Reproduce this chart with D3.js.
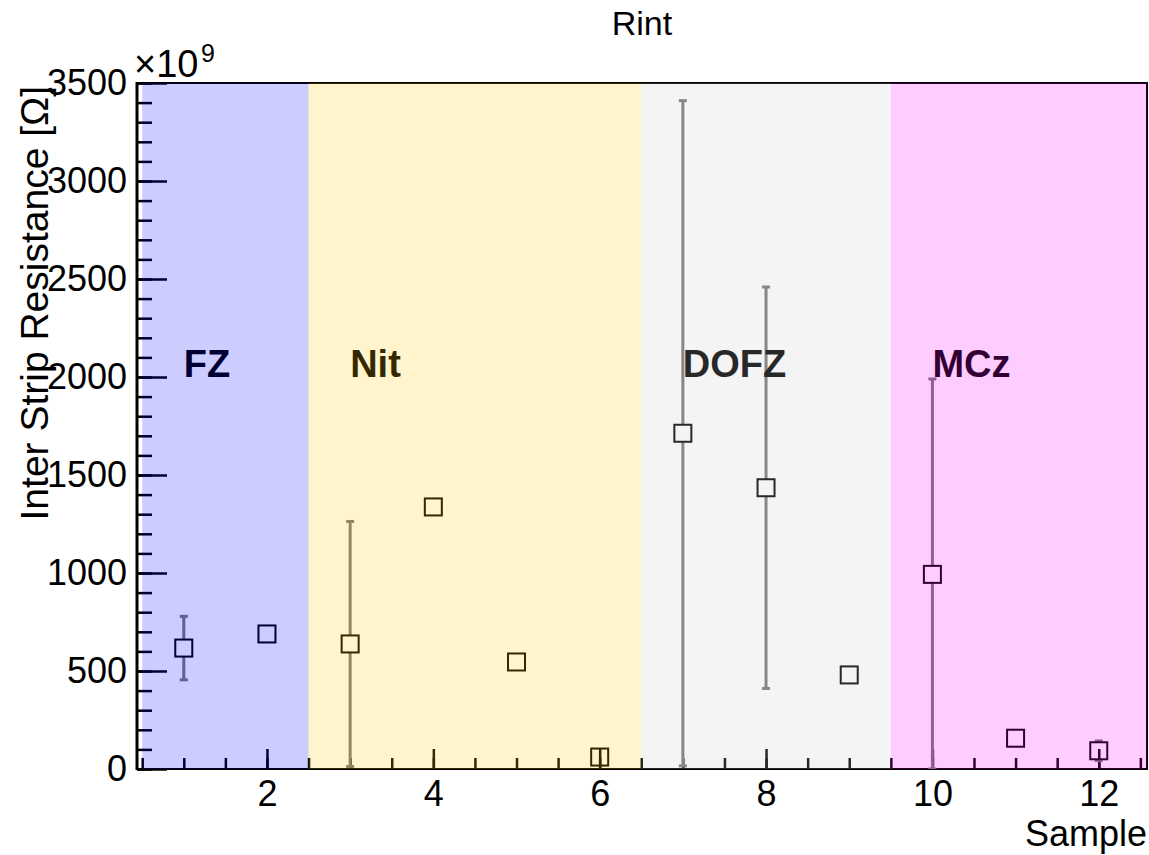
<!DOCTYPE html>
<html lang="en">
<head>
<meta charset="utf-8">
<script src="https://d3js.org/d3.v7.min.js"></script>
<style>
  body { margin: 0; background: #fff; }
  svg { display: block; font-family: "Liberation Sans", Arial, Helvetica, sans-serif; }
  .tick text { font-size: 36px; fill: #000; }
</style>
</head>
<body>
<svg></svg>
<script>
// data (values in units of 1e9 Ohm)
const samples = [1, 2, 3, 4, 5, 6, 7, 8, 9, 10, 11, 12];
const values  = [617, 689, 638, 1337, 546, 61, 1713, 1435, 480, 993, 157, 93];
const errors  = [162, 0, 625, 0, 0, 0, 1697, 1024, 0, 997, 0, 50];

const groupNames = ["FZ", "Nit", "DOFZ", "MCz"];
const groupEdges = [0.5, 2.5, 6.5, 9.5, 12.58];
const groupLabelX = [1, 3, 7, 10];
const groupColors = ["rgba(0,0,255,0.2)", "rgba(255,200,0,0.2)", "rgba(200,200,200,0.2)", "rgba(255,0,255,0.2)"];

const xMajor = [2, 4, 6, 8, 10, 12];
const xMinor = d3.range(0.5, 12.51, 0.5);
const yMajor = [0, 500, 1000, 1500, 2000, 2500, 3000, 3500];
const yMinor = d3.range(0, 3501, 100);

const W = 1149, H = 855;
const L = 137, R = 1147, T = 83, B = 769;

const svg = d3.select("svg").attr("width", W).attr("height", H);

const x = d3.scaleLinear().domain([0.4375, 12.58]).range([L, R]);
const y = d3.scaleLinear().domain([0, 3500]).range([B, T]);

svg.append("defs").append("clipPath").attr("id", "frame")
  .append("rect").attr("x", L).attr("y", T).attr("width", R - L).attr("height", B - T);

// frame
svg.append("rect")
  .attr("x", L).attr("y", T).attr("width", R - L).attr("height", B - T)
  .attr("fill", "none").attr("stroke", "#000").attr("stroke-width", 2);

// axes
function styleAxis(g) {
  g.select(".domain").remove();
  g.selectAll(".tick line").attr("stroke", "#000").attr("stroke-width", 2.5);
}

svg.append("g").attr("transform", `translate(${L},0)`)
  .call(d3.axisLeft(y).tickValues(yMinor).tickSize(-15).tickFormat(""))
  .call(styleAxis);
svg.append("g").attr("transform", `translate(${L},0)`)
  .call(d3.axisLeft(y).tickValues(yMajor).tickSize(-30).tickPadding(10).tickFormat(d3.format("d")))
  .call(styleAxis);

svg.append("g").attr("transform", `translate(0,${B})`)
  .call(d3.axisBottom(x).tickValues(xMinor).tickSize(-11).tickFormat(""))
  .call(styleAxis);
svg.append("g").attr("transform", `translate(0,${B})`)
  .call(d3.axisBottom(x).tickValues(xMajor).tickSize(-20).tickPadding(11).tickFormat(d3.format("d")))
  .call(styleAxis);

svg.selectAll(".tick text").attr("font-family", null).attr("font-size", null);

// data layer
const plot = svg.append("g").attr("clip-path", "url(#frame)");
const half = 8.5;

samples.forEach((s, i) => {
  const cx = x(s), cy = y(values[i]);
  if (errors[i] > 0) {
    const top = y(values[i] + errors[i]);
    const bot = y(Math.max(values[i] - errors[i], 0));
    const eb = plot.append("g").attr("stroke", "#777").attr("stroke-width", 3);
    if (top < cy - half) eb.append("line").attr("x1", cx).attr("x2", cx).attr("y1", top).attr("y2", cy - half);
    if (bot > cy + half) eb.append("line").attr("x1", cx).attr("x2", cx).attr("y1", cy + half).attr("y2", bot);
    eb.append("line").attr("x1", cx - 4).attr("x2", cx + 4).attr("y1", top).attr("y2", top);
    eb.append("line").attr("x1", cx - 4).attr("x2", cx + 4).attr("y1", bot).attr("y2", bot);
  }
});

plot.selectAll("rect.marker")
  .data(samples)
  .join("rect")
  .attr("class", "marker")
  .attr("x", d => x(d) - half)
  .attr("y", (d, i) => y(values[i]) - half)
  .attr("width", half * 2)
  .attr("height", half * 2)
  .attr("fill", "none")
  .attr("stroke", "#000")
  .attr("stroke-width", 2);

plot.selectAll("text.group")
  .data(groupNames)
  .join("text")
  .attr("class", "group")
  .attr("x", (d, i) => x(groupLabelX[i]))
  .attr("y", y(2000))
  .attr("font-size", 38)
  .attr("font-weight", "bold")
  .attr("fill", "#000")
  .text(d => d);

// translucent bands on top
plot.selectAll("rect.band")
  .data(groupNames)
  .join("rect")
  .attr("class", "band")
  .attr("x", (d, i) => x(groupEdges[i]))
  .attr("width", (d, i) => x(groupEdges[i + 1]) - x(groupEdges[i]))
  .attr("y", T)
  .attr("height", B - T)
  .attr("fill", (d, i) => groupColors[i]);

// left axis line drawn over everything
svg.append("line").attr("x1", L).attr("x2", L).attr("y1", T - 1).attr("y2", B + 1)
  .attr("stroke", "#000").attr("stroke-width", 3);

// titles
svg.append("text").attr("x", (L + R) / 2).attr("y", 35)
  .attr("text-anchor", "middle").attr("font-size", 34).text("Rint");

svg.append("text").attr("x", R).attr("y", 846)
  .attr("text-anchor", "end").attr("font-size", 36).text("Sample");

svg.append("text").attr("transform", `translate(48,${T + 3}) rotate(-90)`)
  .attr("text-anchor", "end").attr("font-size", 39).text("Inter Strip Resistance [Ω]");

svg.append("text").attr("x", 134).attr("y", 77).attr("font-size", 38).text("×10");
svg.append("text").attr("x", 201).attr("y", 62).attr("font-size", 25).text("9");
</script>
</body>
</html>
